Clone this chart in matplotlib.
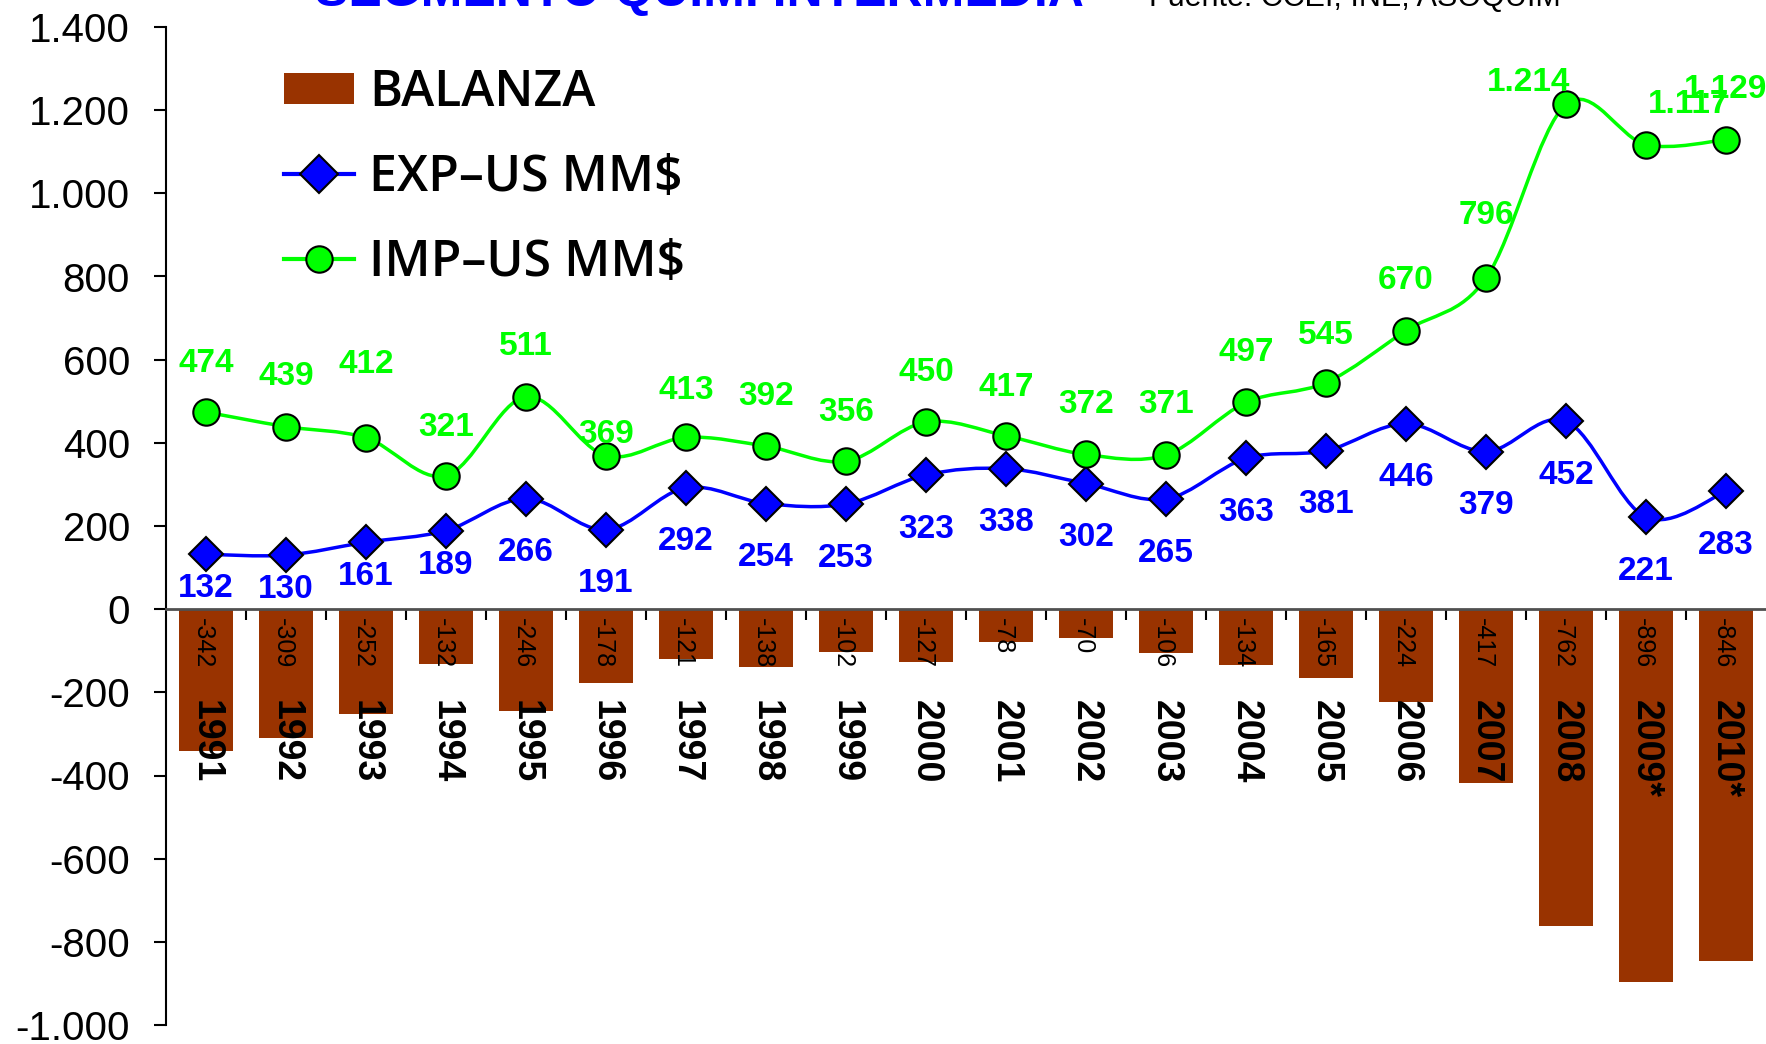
import numpy as np
import matplotlib.pyplot as plt
from matplotlib.path import Path
from matplotlib.patches import PathPatch, Patch
from matplotlib.lines import Line2D
from matplotlib.ticker import FuncFormatter

plt.rcParams['font.family'] = ['Liberation Sans', 'DejaVu Sans']

years = ["1991", "1992", "1993", "1994", "1995", "1996", "1997", "1998", "1999", "2000",
         "2001", "2002", "2003", "2004", "2005", "2006", "2007", "2008", "2009*", "2010*"]
balanza = [-342, -309, -252, -132, -246, -178, -121, -138, -102, -127,
           -78, -70, -106, -134, -165, -224, -417, -762, -896, -846]
exportaciones = [132, 130, 161, 189, 266, 191, 292, 254, 253, 323,
                 338, 302, 265, 363, 381, 446, 379, 452, 221, 283]
importaciones = [474, 439, 412, 321, 511, 369, 413, 392, 356, 450,
                 417, 372, 371, 497, 545, 670, 796, 1214, 1117, 1129]

BAR_COLOR = '#993300'
EXP_COLOR = '#0000FF'
IMP_COLOR = '#00FF00'


def smooth_path(xs, ys):
    # curva suavizada tipo Excel (Catmull-Rom -> Bezier)
    pts = list(zip(xs, ys))
    n = len(pts)
    verts = [pts[0]]
    codes = [Path.MOVETO]
    for i in range(n - 1):
        p0 = pts[i - 1] if i > 0 else pts[i]
        p1 = pts[i]
        p2 = pts[i + 1]
        p3 = pts[i + 2] if i + 2 < n else pts[i + 1]
        c1 = (p1[0] + (p2[0] - p0[0]) / 6, p1[1] + (p2[1] - p0[1]) / 6)
        c2 = (p2[0] - (p3[0] - p1[0]) / 6, p2[1] - (p3[1] - p1[1]) / 6)
        verts += [c1, c2, p2]
        codes += [Path.CURVE4] * 3
    return Path(verts, codes)


def miles(v, pos):
    return f"{int(v):,}".replace(",", ".")


fig = plt.figure(figsize=(17.66, 10.44), dpi=100)
ax = fig.add_axes([166 / 1766, 19 / 1044, 1600 / 1766, 998 / 1044])

x = np.arange(len(years))

ax.bar(x, balanza, width=0.68, color=BAR_COLOR, zorder=1)

ax.add_patch(PathPatch(smooth_path(x, exportaciones), fill=False, edgecolor=EXP_COLOR, lw=2.5, zorder=3))
ax.add_patch(PathPatch(smooth_path(x, importaciones), fill=False, edgecolor=IMP_COLOR, lw=2.5, zorder=3))
ax.plot(x, exportaciones, ls='none', marker='D', ms=17, mfc=EXP_COLOR, mec='black', mew=1.5, zorder=4)
ax.plot(x, importaciones, ls='none', marker='o', ms=19, mfc=IMP_COLOR, mec='black', mew=1.5, zorder=4)

# etiquetas de datos
imp_dx = [0] * 17 + [-27, 31, 0]
imp_dy = [35, 36, 53, 35, 36, 15, 34, 36, 35, 36, 35, 36, 36, 36, 34, 36, 45, 16, 29, 36]
for i, v in enumerate(importaciones):
    ax.annotate(miles(v, None), (i, v), xytext=(imp_dx[i], imp_dy[i]), textcoords='offset points',
                ha='center', va='center', color=IMP_COLOR, fontsize=24, fontweight='bold', zorder=5)

exp_dy = [-25] * 4 + [-39] * 16
for i, v in enumerate(exportaciones):
    ax.annotate(miles(v, None), (i, v), xytext=(0, exp_dy[i]), textcoords='offset points',
                ha='center', va='center', color=EXP_COLOR, fontsize=24, fontweight='bold', zorder=5)

for i, v in enumerate(balanza):
    ax.annotate(str(v), (i, 0), xytext=(-2, -6), textcoords='offset points', rotation=270,
                ha='center', va='top', color='black', fontsize=18, zorder=5)

for i, yr in enumerate(years):
    ax.text(i, -218, yr, rotation=270, ha='center', va='top', fontsize=27,
            fontweight='bold', color='black', zorder=5)

ax.set_xlim(-0.5, len(years) - 0.5)
ax.set_ylim(-1000, 1400)
ax.set_yticks(np.arange(-1000, 1401, 200))
ax.yaxis.set_major_formatter(FuncFormatter(miles))
ax.tick_params(axis='y', direction='out', length=9, width=1.5, labelsize=29, pad=17)
ax.set_xticks(np.arange(0.5, len(years) - 1, 1))
ax.tick_params(axis='x', direction='out', length=8, width=1.5, labelbottom=False)

for s in ['top', 'right']:
    ax.spines[s].set_visible(False)
ax.spines['bottom'].set_position(('data', 0))
ax.spines['bottom'].set_color('#505050')
ax.spines['bottom'].set_linewidth(2)
ax.spines['left'].set_linewidth(1.5)

handles = [
    Patch(facecolor=BAR_COLOR, edgecolor='none'),
    Line2D([], [], color=EXP_COLOR, lw=3, marker='D', ms=19, mfc=EXP_COLOR, mec='black', mew=1.5),
    Line2D([], [], color=IMP_COLOR, lw=3, marker='o', ms=19, mfc=IMP_COLOR, mec='black', mew=1.5),
]
ax.legend(handles, ["BALANZA", "EXP\u2013US MM$", "IMP\u2013US MM$"], loc='upper left',
          bbox_to_anchor=(284 / 1766, 1 - 68 / 1044), bbox_transform=fig.transFigure,
          frameon=False, prop={'family': ['Open Sans', 'DejaVu Sans'], 'weight': 'semibold', 'size': 36},
          handlelength=1.4, handleheight=0.6, handletextpad=0.3, labelspacing=0.7,
          borderaxespad=0, borderpad=0)

fig.text(0.396, 0.994, "SEGMENTO QUIMI INTERMEDIA", color='blue', fontsize=36, fontweight='bold',
         ha='center', va='baseline')
fig.text(0.767, 0.994, "Fuente: CCEI, INE, ASOQUIM", color='black', fontsize=22,
         ha='center', va='baseline')

fig.savefig("out.png", dpi=100)
